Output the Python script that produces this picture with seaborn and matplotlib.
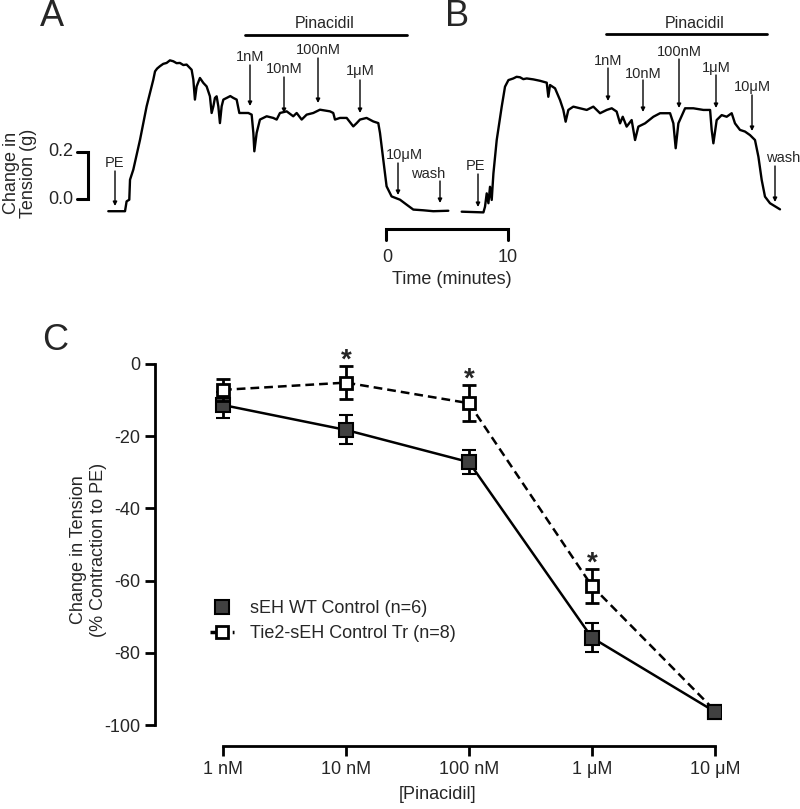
import numpy as np
import pandas as pd
import matplotlib
matplotlib.use("Agg")
import matplotlib.pyplot as plt
from matplotlib.lines import Line2D
import seaborn as sns

# -------------------------
# Data
# -------------------------
# Panel A trace (time in minutes from trace start, change in tension in g)
trace_a_t = [0, 1.37, 1.50, 1.72, 1.78, 2.05, 2.60, 3.14, 3.55, 3.69, 3.83, 4.0, 4.23, 4.5,
             4.78, 5.05, 5.33, 5.6, 5.87, 6.15, 6.42, 6.83, 6.97, 7.10, 7.24, 7.51, 7.79, 8.06,
             8.33, 8.47, 8.61, 8.74, 8.88, 9.02, 9.15, 9.29, 9.43, 9.70, 10.0, 10.25, 10.52,
             10.74, 11.07, 11.48, 11.75, 11.89, 11.97, 12.16, 12.43, 12.98, 13.52, 13.80,
             14.07, 14.62, 15.16, 15.44, 15.85, 16.26, 16.80, 17.35, 18.17, 18.44, 18.58,
             18.99, 19.54, 20.08, 20.36, 20.63, 21.17, 21.72, 22.13, 22.27, 22.54, 22.81,
             23.22, 23.91, 24.45, 25.00, 25.82, 26.64, 27.87]
trace_a_g = [-0.052, -0.052, -0.010, -0.003, 0.082, 0.125, 0.252, 0.394, 0.479, 0.508, 0.543,
             0.555, 0.565, 0.575, 0.579, 0.590, 0.586, 0.578, 0.579, 0.570, 0.572, 0.550,
             0.508, 0.423, 0.479, 0.515, 0.494, 0.479, 0.437, 0.366, 0.394, 0.430, 0.437,
             0.394, 0.323, 0.394, 0.423, 0.430, 0.438, 0.430, 0.423, 0.366, 0.366, 0.366,
             0.359, 0.281, 0.203, 0.281, 0.338, 0.352, 0.345, 0.338, 0.366, 0.373, 0.352,
             0.366, 0.338, 0.359, 0.366, 0.380, 0.373, 0.366, 0.338, 0.345, 0.345, 0.309,
             0.323, 0.338, 0.345, 0.330, 0.323, 0.281, 0.167, 0.054, 0.011, -0.003, -0.024,
             -0.045, -0.048, -0.052, -0.050]

# Panel B trace
trace_b_t = [0, 1.78, 1.91, 2.05, 2.19, 2.32, 2.46, 2.60, 2.87, 3.28, 3.55, 3.83, 4.23, 4.5,
             4.78, 5.05, 5.33, 5.87, 6.42, 6.97, 7.10, 7.24, 7.65, 8.06, 8.33, 8.52, 8.74,
             9.15, 9.70, 10.25, 10.79, 11.34, 11.89, 12.30, 12.70, 12.98, 13.20, 13.52,
             13.93, 14.21, 14.48, 15.03, 15.71, 16.26, 17.08, 17.35, 17.54, 17.76, 18.31,
             18.99, 19.81, 20.36, 20.49, 20.63, 20.90, 21.31, 21.72, 22.13, 22.40, 22.81,
             23.22, 23.63, 24.04, 24.32, 24.59, 24.86, 25.27, 26.09]
trace_b_g = [-0.054, -0.057, -0.033, 0.024, -0.018, 0.052, -0.004, 0.109, 0.251, 0.393, 0.478,
             0.506, 0.513, 0.520, 0.518, 0.510, 0.513, 0.509, 0.503, 0.495, 0.435, 0.485,
             0.471, 0.421, 0.379, 0.329, 0.379, 0.393, 0.386, 0.379, 0.393, 0.365, 0.379,
             0.386, 0.372, 0.322, 0.350, 0.308, 0.336, 0.251, 0.308, 0.322, 0.350, 0.365,
             0.365, 0.322, 0.216, 0.322, 0.386, 0.386, 0.379, 0.379, 0.294, 0.237, 0.336,
             0.357, 0.350, 0.365, 0.322, 0.294, 0.287, 0.272, 0.251, 0.180, 0.081, 0.010,
             -0.018, -0.044]

# Panel C: concentration-response
concentrations = ["1 nM", "10 nM", "100 nM", "1 \u03bcM", "10 \u03bcM"]
wt_mean = [-11.4, -18.3, -27.2, -75.8, -96.3]
wt_sem = [3.5, 4.0, 3.3, 4.0, 1.0]
tr_mean = [-7.2, -5.2, -10.9, -61.5, -96.0]
tr_sem = [3.0, 4.5, 5.0, 4.7, 1.0]
significant = [False, True, True, True, False]

wt_label = "sEH WT Control (n=6)"
tr_label = "Tie2-sEH Control Tr (n=8)"

# -------------------------
# Figure setup
# -------------------------
sns.set_style("ticks")
plt.rcParams["font.family"] = ["Liberation Sans", "DejaVu Sans"]
plt.rcParams["axes.unicode_minus"] = False

fig = plt.figure(figsize=(8, 8.09), dpi=100)
W, H = 800, 809

# top panel axes: x in minutes, y in grams, spans the full width
PX_PER_MIN = 12.2
PX_PER_G = 235.0
Y0_PX = 199.0
TOP_H = 290.0
ax_top = fig.add_axes([0, 1 - TOP_H / H, 1, TOP_H / H])
ax_top.set_xlim(0, W / PX_PER_MIN)
ax_top.set_ylim(-(TOP_H - Y0_PX) / PX_PER_G, Y0_PX / PX_PER_G)
ax_top.axis("off")


def P(x, y):
    # layout helper: page pixel -> top axes data coords
    return x / PX_PER_MIN, (Y0_PX - y) / PX_PER_G


start_a = 108.3 / PX_PER_MIN
start_b = 461.7 / PX_PER_MIN
df_a = pd.DataFrame({"t": np.array(trace_a_t) + start_a, "g": trace_a_g})
df_b = pd.DataFrame({"t": np.array(trace_b_t) + start_b, "g": trace_b_g})
sns.lineplot(data=df_a, x="t", y="g", ax=ax_top, color="black", lw=1.7, sort=False)
sns.lineplot(data=df_b, x="t", y="g", ax=ax_top, color="black", lw=1.7, sort=False)

small = 10.5
label_fs = 13


def arrow(x, y_tail, y_tip, text=None, ty=None, tx=None):
    ax_top.annotate("", xy=P(x, y_tip), xytext=P(x, y_tail),
                    arrowprops=dict(arrowstyle="-|>", color="black", lw=1.0,
                                    mutation_scale=6, shrinkA=0, shrinkB=0))
    if text:
        ax_top.text(*P(tx if tx is not None else x, ty), text, ha="center", va="center",
                    fontsize=small)


# Panel A annotations
ax_top.text(*P(52, 17), "A", fontsize=26, ha="center", va="center")
arrow(115, 171, 206, "PE", 163)
arrow(250, 65, 106, "1nM", 57)
arrow(284, 77, 113, "10nM", 69)
arrow(318, 58, 103, "100nM", 50)
arrow(360, 80, 113, "1\u03bcM", 71)
arrow(398, 163, 195, "10\u03bcM", 155, tx=404)
arrow(440, 181, 203, "wash", 174, tx=428)
ax_top.plot(*zip(P(245, 35), P(407, 35)), color="black", lw=2)
ax_top.text(*P(325, 24), "Pinacidil", fontsize=11.5, ha="center", va="center")

# Panel B annotations
ax_top.text(*P(457, 17), "B", fontsize=26, ha="center", va="center")
arrow(478, 174, 207, "PE", 166, tx=476)
arrow(608, 68, 101, "1nM", 61)
arrow(643, 80, 112, "10nM", 74)
arrow(679, 59, 108, "100nM", 52)
arrow(716, 75, 108, "1\u03bcM", 68)
arrow(752, 95, 131, "10\u03bcM", 87)
arrow(775, 166, 202, "wash", 158, tx=783)
ax_top.plot(*zip(P(606, 34), P(767, 34)), color="black", lw=2)
ax_top.text(*P(695, 24), "Pinacidil", fontsize=11.5, ha="center", va="center")

# tension scale bar
ax_top.plot(*zip(P(77, 152), P(88, 152), P(88, 199), P(77, 199)), color="black", lw=2.2,
            solid_joinstyle="miter")
ax_top.text(*P(73, 152), "0.2", fontsize=label_fs, ha="right", va="center")
ax_top.text(*P(73, 199), "0.0", fontsize=label_fs, ha="right", va="center")
ax_top.text(*P(20, 173), "Change in\nTension (g)", fontsize=label_fs, ha="center",
            va="center", rotation=90, linespacing=1.0)

# time scale bar
ax_top.plot(*zip(P(386, 240), P(386, 229), P(508, 229), P(508, 240)), color="black", lw=2.2,
            solid_joinstyle="miter")
ax_top.text(*P(387, 257), "0", fontsize=label_fs, ha="center", va="center")
ax_top.text(*P(508, 257), "10", fontsize=label_fs, ha="center", va="center")
ax_top.text(*P(452, 279), "Time (minutes)", fontsize=label_fs, ha="center", va="center")

# -------------------------
# Panel C
# -------------------------
ax = fig.add_axes([155 / W, 1 - 746 / H, 566 / W, 393 / H])
xpos = np.arange(len(concentrations))
df_c = pd.DataFrame({"x": np.concatenate([xpos, xpos]),
                     "y": wt_mean + tr_mean,
                     "group": [wt_label] * 5 + [tr_label] * 5})

sns.lineplot(data=df_c[df_c.group == wt_label], x="x", y="y", ax=ax, color="black",
             lw=1.8, zorder=2)
sns.lineplot(data=df_c[df_c.group == tr_label], x="x", y="y", ax=ax, color="black",
             lw=1.8, dashes=False, zorder=3).lines[-1].set_dashes([3.5, 2])

ax.errorbar(xpos, wt_mean, yerr=wt_sem, fmt="s", ms=10, mfc="#404040", mec="black",
            mew=1.5, ecolor="black", elinewidth=2, capsize=5, capthick=2, zorder=4)
ax.errorbar(xpos, tr_mean, yerr=tr_sem, fmt="s", ms=9, mfc="white", mec="black",
            mew=2, ecolor="black", elinewidth=2, capsize=5, capthick=2, zorder=5)
# the 10 uM points overlap; WT square shows on top
ax.plot(xpos[-1], wt_mean[-1], "s", ms=10, mfc="#404040", mec="black", mew=1.5, zorder=6)

for xi, m, s, sig in zip(xpos, tr_mean, tr_sem, significant):
    if sig:
        ax.text(xi, m + s - 0.4, "*", ha="center", va="baseline", fontsize=20,
                fontweight="bold")

ax.set_xlim(-0.553, 4.05)
ax.set_ylim(-105.8, 3)
ax.set_xticks(xpos)
ax.set_xticklabels(concentrations)
ax.set_yticks([0, -20, -40, -60, -80, -100])
ax.set_xlabel("[Pinacidil]", fontsize=13, labelpad=6)
ax.set_ylabel("Change in Tension\n(% Contraction to PE)", fontsize=13, labelpad=-2)
ax.tick_params(axis="both", labelsize=13, width=2, length=7, color="black")
for side in ["top", "right"]:
    ax.spines[side].set_visible(False)
for side in ["left", "bottom"]:
    ax.spines[side].set_linewidth(2)
    ax.spines[side].set_color("black")
ax.spines["left"].set_bounds(-100, 0)
ax.spines["bottom"].set_bounds(0, 4)
ax.grid(False)

handles = [
    Line2D([], [], ls="none", marker="s", ms=10, mfc="#404040", mec="black", mew=1.5),
    Line2D([], [], color="black", ls=(0, (2, 1.2)), lw=2.5, marker="s", ms=9,
           mfc="white", mec="black", mew=2),
]
ax.legend(handles, [wt_label, tr_label], loc="upper left", bbox_to_anchor=(0.085, 0.39),
          frameon=False, fontsize=13, handlelength=1.3, handletextpad=0.9,
          labelspacing=0.45, borderaxespad=0)

fig.text(55 / W, 1 - 340 / H, "C", fontsize=26, ha="center", va="center")

fig.savefig("out.png", dpi=100)
